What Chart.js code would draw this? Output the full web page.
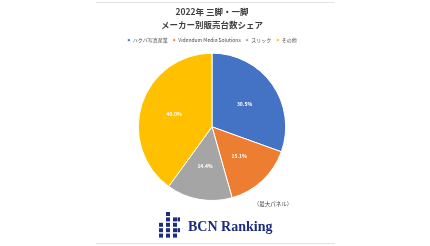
<!DOCTYPE html>
<html>
<head>
<meta charset="utf-8">
<script src="https://cdn.jsdelivr.net/npm/chart.js@4"></script>
<style>
  html, body { margin: 0; padding: 0; background: #fff; }
  #wrap { position: relative; width: 430px; height: 246px; }
</style>
</head>
<body>
<div id="wrap"><canvas id="shareChart" width="430" height="246"></canvas></div>
<script>
// makers and their unit share (%)
var makers = ['ハクバ写真産業', 'Videndum Media Solutions', 'スリック', 'その他'];
var shares = [30.5, 15.1, 14.4, 40.0];
var sliceColors = ['#4472C4', '#ED7D31', '#A5A5A5', '#FFC000'];
var titleLines = ['2022年 三脚・一脚', 'メーカー別販売台数シェア'];
var noteText = '（最大パネル）';

const jpFont = '"Noto Sans CJK JP", "Noto Sans", sans-serif';

// percentage labels inside each slice
const sliceLabels = {
    id: 'sliceLabels',
    afterDatasetsDraw(chart) {
        const ctx = chart.ctx;
        const meta = chart.getDatasetMeta(0);
        ctx.save();
        ctx.font = 'bold 5px ' + jpFont;
        ctx.fillStyle = '#ffffff';
        ctx.textAlign = 'center';
        ctx.textBaseline = 'middle';
        meta.data.forEach(function (arc, i) {
            const p = arc.getProps(['x', 'y', 'startAngle', 'endAngle', 'outerRadius']);
            const mid = (p.startAngle + p.endAngle) / 2;
            const r = p.outerRadius * 0.54;
            ctx.fillText(shares[i].toFixed(1) + '%', p.x + Math.cos(mid) * r, p.y + Math.sin(mid) * r);
        });
        ctx.restore();
    }
};

// frame lines, note and BCN logo
const decorations = {
    id: 'decorations',
    afterDraw(chart) {
        const ctx = chart.ctx;
        ctx.save();
        ctx.strokeStyle = '#e2e2e2';
        ctx.lineWidth = 1;
        ctx.beginPath();
        ctx.moveTo(96, 2.5); ctx.lineTo(335, 2.5);
        ctx.moveTo(96, 243.5); ctx.lineTo(335, 243.5);
        ctx.stroke();

        ctx.fillStyle = '#404040';
        ctx.font = '5.5px ' + jpFont;
        ctx.textAlign = 'center';
        ctx.textBaseline = 'middle';
        ctx.fillText(noteText, 273, 204);

        // logo squares
        ctx.fillStyle = '#1c2c80';
        const cols = [
            { x: 159, rows: [2, 3, 4] },
            { x: 166, rows: [0, 1, 2, 3, 4] },
            { x: 173, rows: [1, 2, 3, 4] }
        ];
        cols.forEach(function (c) {
            c.rows.forEach(function (r) {
                ctx.fillRect(c.x, 212 + r * 5.4, 4, 4);
            });
        });
        ctx.fillRect(177.5, 212 + 1 * 5.4, 2.5, 4);
        ctx.fillRect(177.5, 212 + 3 * 5.4, 2.5, 4);

        ctx.font = 'bold 14px "Liberation Serif", "DejaVu Serif", serif';
        ctx.textAlign = 'left';
        ctx.textBaseline = 'alphabetic';
        ctx.fillText('BCN Ranking', 188, 231);
        ctx.restore();
    }
};

const ctx = document.getElementById('shareChart').getContext('2d');
new Chart(ctx, {
    type: 'pie',
    data: {
        labels: makers,
        datasets: [{
            data: shares,
            backgroundColor: sliceColors,
            borderColor: '#ffffff',
            borderWidth: 1
        }]
    },
    options: {
        responsive: false,
        animation: false,
        layout: { padding: { top: 6, bottom: 45, left: 0, right: 6 } },
        plugins: {
            title: {
                display: true,
                text: titleLines,
                color: '#404040',
                font: { family: jpFont, size: 8.5, weight: 'bold', lineHeight: 1.45 },
                padding: { top: 0, bottom: 2 }
            },
            legend: {
                position: 'top',
                labels: {
                    color: '#4a4a4a',
                    font: { family: jpFont, size: 5 },
                    boxWidth: 3,
                    boxHeight: 3,
                    padding: 5
                }
            },
            tooltip: { enabled: false }
        }
    },
    plugins: [sliceLabels, decorations]
});
</script>
</body>
</html>
